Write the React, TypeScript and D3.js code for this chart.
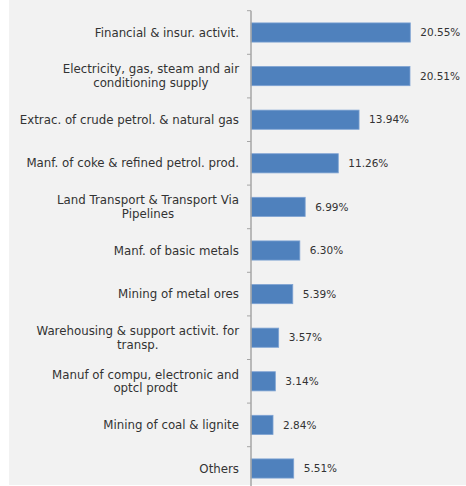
import React from "react";
import * as d3 from "d3";

const categories: string[][] = [
  ["Financial & insur. activit."],
  ["Electricity, gas, steam and air", "conditioning supply"],
  ["Extrac. of crude petrol. & natural gas"],
  ["Manf. of coke & refined petrol. prod."],
  ["Land Transport & Transport Via", "Pipelines"],
  ["Manf. of basic metals"],
  ["Mining of metal ores"],
  ["Warehousing & support activit. for", "transp."],
  ["Manuf of compu, electronic and", "optcl prodt"],
  ["Mining of coal & lignite"],
  ["Others"],
];
const values: number[] = [20.55, 20.51, 13.94, 11.26, 6.99, 6.3, 5.39, 3.57, 3.14, 2.84, 5.51];
const valueLabels: string[] = ["20.55%", "20.51%", "13.94%", "11.26%", "6.99%", "6.30%", "5.39%", "3.57%", "3.14%", "2.84%", "5.51%"];

const W = 466;
const H = 486;
const axisX = 251;
const FONT = "'Century Gothic', 'DejaVu Sans', sans-serif";
const FS = 11.8;
const VFS = 10.5;

export default function App() {
  const keys = categories.map((c) => c.join(" "));
  const y = d3.scaleBand<string>().domain(keys).range([10.7, 490.3]).paddingInner(0.56).paddingOuter(0.28);
  const step = y.step();
  const x = d3.scaleLinear().domain([0, 20.55]).range([axisX, 410.3]);
  const lineH = 13.5;
  return (
    <svg width={W} height={H} style={{ position: "fixed", left: 0, top: 0, display: "block" }} fontFamily={FONT}>
      <rect x={0} y={0} width={W} height={H} fill="#ffffff" />
      <rect x={9} y={0} width={W - 9} height={485} fill="#f2f2f2" />
      {keys.map((k, i) => {
        const yb = y(k)!;
        const cy = yb + y.bandwidth() / 2;
        const lines = categories[i];
        const bx = 239;
        return (
          <g key={k}>
            <rect x={axisX} y={yb} width={x(values[i]) - axisX} height={y.bandwidth()} fill="#4f81bd" stroke="#7ea3d3" strokeWidth={0.8} />
            <text x={x(values[i]) + 10} y={cy} dy="0.35em" fontSize={VFS} fill="#333333">{valueLabels[i]}</text>
            {lines.length === 1 ? (
              <text x={bx} y={cy} dy="0.35em" textAnchor="end" fontSize={FS} fill="#333333">{lines[0]}</text>
            ) : (
              <TwoLine lines={lines} right={bx} cy={cy} lineH={lineH} />
            )}
          </g>
        );
      })}
      {d3.range(keys.length + 1).map((i) => {
        const ty = 10.7 + i * step;
        return <line key={"t" + i} x1={247} x2={axisX} y1={ty} y2={ty} stroke="#a6a6a6" strokeWidth={1} />;
      })}
      <line x1={axisX} x2={axisX} y1={10.7} y2={486} stroke="#a6a6a6" strokeWidth={1.5} />
    </svg>
  );
}

function TwoLine({ lines, right, cy, lineH }: { lines: string[]; right: number; cy: number; lineH: number }) {
  const ref = React.useRef<SVGGElement>(null);
  const [w, setW] = React.useState<number[]>([]);
  React.useLayoutEffect(() => {
    if (ref.current) {
      const ts = Array.from(ref.current.querySelectorAll("text")) as SVGTextElement[];
      setW(ts.map((t) => t.getComputedTextLength()));
    }
  }, []);
  const maxW = w.length ? Math.max(...w) : 0;
  const center = right - maxW / 2;
  return (
    <g ref={ref}>
      {lines.map((l, j) => (
        <text key={j} x={w.length ? center : right} y={cy + (j - (lines.length - 1) / 2) * lineH} dy="0.35em" textAnchor={w.length ? "middle" : "end"} fontSize={FS} fill="#333333">{l}</text>
      ))}
    </g>
  );
}
